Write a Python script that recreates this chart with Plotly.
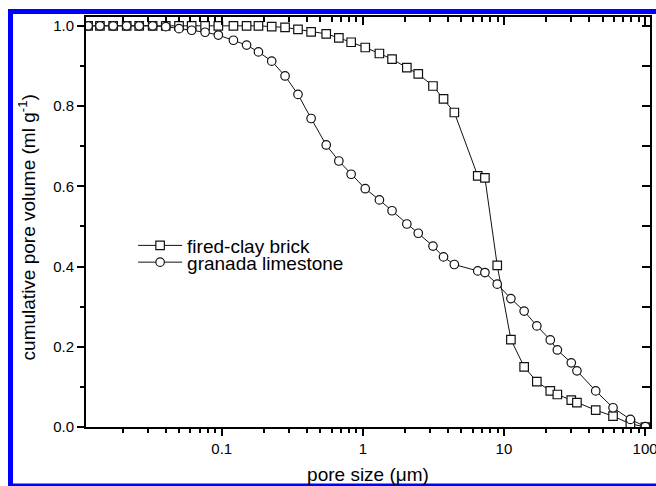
import plotly.graph_objects as go

# pore size grid (µm), shared by both samples
pore_size = [0.0113, 0.0137, 0.0170, 0.0212, 0.0260, 0.0324, 0.0401, 0.0498, 0.0612, 0.0762,
             0.0946, 0.121, 0.150, 0.182, 0.226, 0.281, 0.347, 0.430, 0.550, 0.676,
             0.826, 1.04, 1.31, 1.61, 2.05, 2.47, 3.14, 3.73, 4.45, 6.52,
             7.33, 8.96, 11.2, 13.9, 17.1, 21.3, 23.9, 30.0, 32.9, 44.7,
             59.3, 78.7, 100.5]

brick = [1.0, 1.0, 1.0, 1.0, 1.0, 1.0, 1.0, 1.0, 1.0, 1.0,
         1.0, 1.0, 1.0, 1.0, 0.998, 0.996, 0.991, 0.985, 0.980, 0.970,
         0.959, 0.946, 0.931, 0.917, 0.896, 0.880, 0.850, 0.818, 0.784, 0.626,
         0.621, 0.403, 0.218, 0.150, 0.113, 0.090, 0.081, 0.067, 0.061, 0.042,
         0.027, 0.008, 0.0]

limestone = [1.0, 1.0, 1.0, 1.0, 1.0, 1.0, 0.998, 0.993, 0.989, 0.984,
             0.977, 0.964, 0.952, 0.935, 0.912, 0.875, 0.829, 0.769, 0.703, 0.663,
             0.630, 0.594, 0.566, 0.539, 0.506, 0.483, 0.451, 0.424, 0.405, 0.389,
             0.385, 0.356, 0.320, 0.289, 0.252, 0.217, 0.192, 0.160, 0.140, 0.090,
             0.048, 0.019, 0.001]

series_names = ["fired-clay brick", "granada limestone"]

x_major = [0.1, 1, 10, 100]
x_major_text = ["0.1", "1", "10", "100"]
x_minor = [m * d for d in [0.01, 0.1, 1, 10] for m in range(2, 10)]

FONT = "Arial, Liberation Sans, sans-serif"

fig = go.Figure()
fig.add_trace(go.Scatter(
    x=pore_size, y=brick, name=series_names[0], mode="lines+markers",
    line=dict(color="#111", width=1),
    marker=dict(symbol="square", size=8.5, color="white", line=dict(width=1.2, color="#111")),
    legend="legend"))
fig.add_trace(go.Scatter(
    x=pore_size, y=limestone, name=series_names[1], mode="lines+markers",
    line=dict(color="#111", width=1),
    marker=dict(symbol="circle", size=8.5, color="white", line=dict(width=1.2, color="#111")),
    legend="legend2"))
# invisible trace so the mirrored (top/right) axes are drawn
fig.add_trace(go.Scatter(
    x=pore_size, y=limestone, xaxis="x2", yaxis="y2", mode="markers",
    marker=dict(opacity=0), showlegend=False, hoverinfo="skip"))

xr = [-1.962, 2.035]
yr = [0, 1.022]

fig.update_layout(
    width=656, height=486,
    margin=dict(l=86, r=6, t=17, b=59),
    paper_bgcolor="white", plot_bgcolor="white",
    font=dict(family=FONT, color="black", size=15),
    xaxis=dict(type="log", range=xr, showgrid=False, zeroline=False, automargin=False,
               showline=True, linecolor="black", linewidth=2,
               ticks="outside", ticklen=7, tickwidth=1.5, tickcolor="black",
               tickvals=x_major, ticktext=x_major_text, ticklabeloverflow="allow",
               tickfont=dict(size=15, family=FONT),
               minor=dict(tickvals=x_minor, ticks="outside", ticklen=4,
                          tickwidth=1.5, tickcolor="black", showgrid=False),
               title=dict(text="pore size (μm)", font=dict(size=19, family=FONT), standoff=12)),
    xaxis2=dict(type="log", range=xr, overlaying="x", matches="x", side="top",
                anchor="y2", showgrid=False, zeroline=False, automargin=False,
                showline=True, linecolor="black", linewidth=2,
                ticks="inside", ticklen=8, tickwidth=1.5, tickcolor="black",
                tickvals=x_major, showticklabels=False,
                minor=dict(tickvals=x_minor, ticks="inside", ticklen=5,
                           tickwidth=1.5, tickcolor="black", showgrid=False)),
    yaxis=dict(range=yr, showgrid=False, zeroline=False, automargin=False,
               showline=True, linecolor="black", linewidth=2,
               ticks="outside", ticklen=7, tickwidth=1.5, tickcolor="black",
               dtick=0.2, tick0=0, tickformat=".1f",
               tickfont=dict(size=15, family=FONT),
               minor=dict(dtick=0.1, tick0=0, ticks="outside", ticklen=4,
                          tickwidth=1.5, tickcolor="black", showgrid=False)),
    yaxis2=dict(range=yr, overlaying="y", matches="y", side="right", anchor="x2",
                showgrid=False, zeroline=False, automargin=False,
                showline=True, linecolor="black", linewidth=2,
                ticks="inside", ticklen=8, tickwidth=1.5, tickcolor="black",
                dtick=0.1, tick0=0, showticklabels=False),
    legend=dict(x=0.0835, y=0.4426, xanchor="left", yanchor="middle",
                bgcolor="rgba(0,0,0,0)", font=dict(size=19, family=FONT), itemwidth=44),
    legend2=dict(x=0.0835, y=0.4017, xanchor="left", yanchor="middle",
                 bgcolor="rgba(0,0,0,0)", font=dict(size=19, family=FONT), itemwidth=44),
    annotations=[dict(text="cumulative pore volume (ml g<sup>-1</sup>)",
                      xref="paper", yref="paper", x=-0.1045, y=0.487,
                      xanchor="center", yanchor="middle", textangle=-90,
                      showarrow=False, font=dict(size=19, family=FONT))],
    shapes=[
        dict(type="rect", xref="paper", yref="paper", x0=-0.1383, x1=-0.1294,
             y0=-0.147, y1=1.0196, fillcolor="#0000ff", line=dict(width=0)),
        dict(type="rect", xref="paper", yref="paper", x0=-0.1383, x1=1.0106,
             y0=1.0073, y1=1.0196, fillcolor="#0000ff", line=dict(width=0)),
        dict(type="rect", xref="paper", yref="paper", x0=-0.1383, x1=1.0106,
             y0=-0.147, y1=-0.1381, fillcolor="#0000ff", line=dict(width=0)),
    ],
)

fig.write_html("out.html", config={"displayModeBar": False},
               post_script="document.documentElement.style.overflow='hidden';"
                           "document.body.style.overflow='hidden';"
                           "document.body.style.margin='0';")
